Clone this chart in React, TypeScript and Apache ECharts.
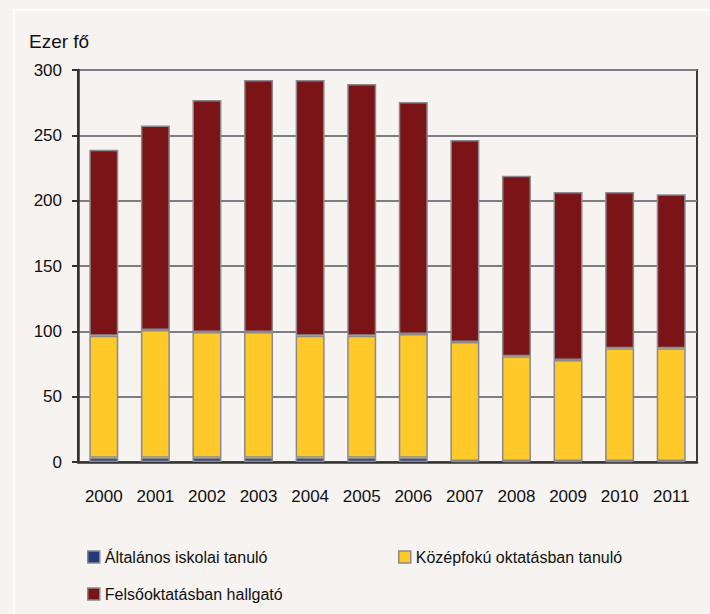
import React, { useEffect, useRef } from "react";
import * as echarts from "echarts";

const years = ["2000", "2001", "2002", "2003", "2004", "2005", "2006", "2007", "2008", "2009", "2010", "2011"];
const seriesNames = ["Általános iskolai tanuló", "Középfokú oktatásban tanuló", "Felsőoktatásban hallgató"];
const primary = [3.2, 3.2, 3.2, 3.2, 3.2, 3.2, 3.2, 0.8, 0.8, 0.8, 0.8, 0.8];
const totalsPrimarySecondary = [96.7, 101, 99.5, 99.5, 96.7, 96.7, 98, 91.8, 81, 78, 87, 87];
const totals = [239, 257.5, 277, 292.3, 292.3, 289.3, 275.5, 246.4, 219, 206.6, 206.6, 205];
const secondary = totalsPrimarySecondary.map((v, i) => +(v - primary[i]).toFixed(1));
const tertiary = totals.map((v, i) => +(v - totalsPrimarySecondary[i]).toFixed(1));
const yTicks = { min: 0, max: 300, interval: 50 };
const colors = ["#213a7a", "#ffc92a", "#7b1416"];

const FONT = "'Liberation Sans', Arial, sans-serif";
const BG = "#f6f3f0";

export default function App() {
  const ref = useRef<HTMLDivElement>(null);
  useEffect(() => {
    document.body.style.margin = "0";
    if (!ref.current) return;
    const chart = echarts.init(ref.current, undefined, { renderer: "svg" });
    const data = [primary, secondary, tertiary];
    const legendPos = [
      { left: 82, top: 544 },
      { left: 393, top: 544 },
      { left: 82, top: 581 },
    ];
    chart.setOption({
      animation: false,
      backgroundColor: BG,
      textStyle: { fontFamily: FONT },
      graphic: [
        {
          type: "rect",
          shape: { x: 14, y: 10, width: 720, height: 640 },
          style: { fill: "none", stroke: "#ffffff", lineWidth: 2 },
          z: 0,
        },
        {
          type: "text",
          left: 29,
          top: 32,
          style: { text: "Ezer fő", fontFamily: FONT, fontSize: 19, fill: "#111" },
        },
      ],
      grid: {
        left: 78,
        right: 13,
        top: 70,
        bottom: 152,
        show: true,
        backgroundColor: BG,
        borderColor: "#3a3a3a",
        borderWidth: 2,
      },
      legend: seriesNames.map((n, i) => ({
        data: [{ name: n, itemStyle: { color: colors[i], borderColor: "#8a8a8e", borderWidth: 1.5 } }],
        left: legendPos[i].left,
        top: legendPos[i].top,
        icon: "rect",
        itemWidth: 12,
        itemHeight: 12,
        itemGap: 6,
        selectedMode: false,
        textStyle: { fontFamily: FONT, fontSize: 16, color: "#111" },
      })),
      xAxis: {
        type: "category",
        data: years,
        axisLine: { lineStyle: { color: "#333", width: 2.5 } },
        axisTick: { show: false },
        axisLabel: { fontFamily: FONT, fontSize: 17, color: "#111", margin: 26, interval: 0 },
      },
      yAxis: {
        type: "value",
        min: yTicks.min,
        max: yTicks.max,
        interval: yTicks.interval,
        axisLine: { show: true, lineStyle: { color: "#333", width: 2.5 } },
        axisTick: { show: true, length: 6, lineStyle: { color: "#333", width: 2 } },
        axisLabel: { fontFamily: FONT, fontSize: 17, color: "#111", margin: 16 },
        splitLine: { lineStyle: { color: "#7d7d84", width: 2 } },
      },
      series: seriesNames.map((n, i) => ({
        name: n,
        type: "bar",
        stack: "total",
        data: data[i],
        barWidth: 29,
        itemStyle: { color: colors[i], borderColor: "#8a8a8e", borderWidth: 1.5 },
      })),
    });
    return () => chart.dispose();
  }, []);
  return <div ref={ref} style={{ width: 710, height: 614, position: "fixed", left: 0, top: 0 }} />;
}
